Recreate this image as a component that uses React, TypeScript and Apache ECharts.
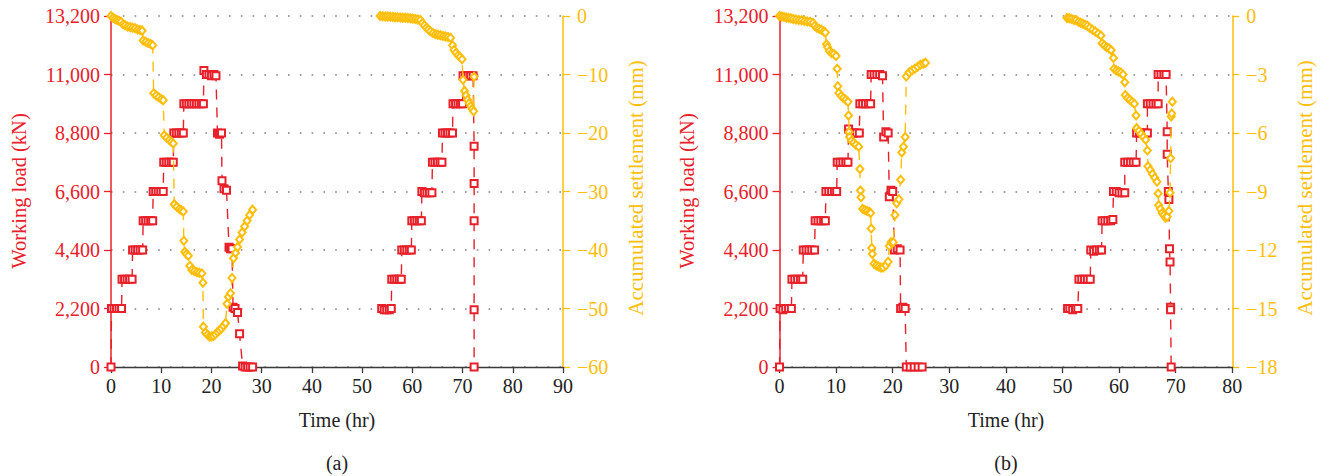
import React, { useEffect, useRef } from "react";
import * as echarts from "echarts";

// ---------- data ----------
// (a) working load [time hr, load kN]
const loadA1: number[][] = [
  [0, 0],
  [0.1, 2200], [0.6, 2200], [1.1, 2200], [1.6, 2200], [2.1, 2200],
  [2.2, 3300], [2.7, 3300], [3.2, 3300], [3.7, 3300], [4.2, 3300],
  [4.3, 4400], [4.8, 4400], [5.3, 4400], [5.8, 4400], [6.3, 4400],
  [6.4, 5500], [6.9, 5500], [7.4, 5500], [7.9, 5500], [8.3, 5500],
  [8.4, 6600], [8.9, 6600], [9.4, 6600], [9.9, 6600], [10.4, 6600],
  [10.5, 7700], [11.0, 7700], [11.5, 7700], [12.0, 7700], [12.4, 7700],
  [12.5, 8800], [13.0, 8800], [13.5, 8800], [14.0, 8800], [14.4, 8800],
  [14.5, 9900], [15.0, 9900], [15.5, 9900], [16.0, 9900], [16.5, 9900], [17.0, 9900], [17.5, 9900], [18.0, 9900], [18.4, 9900],
  [18.5, 11150], [19.0, 11000], [19.5, 11000], [20.0, 10950], [20.5, 11000], [20.9, 10950],
  [21.2, 8800], [21.6, 8750], [22.0, 8800],
  [22.1, 7000], [22.5, 6700], [23.0, 6650],
  [23.5, 4500], [23.8, 4450], [24.1, 4450],
  [24.3, 2250], [24.7, 2200], [25.2, 2050],
  [25.6, 1250],
  [26.2, 40], [26.7, 0], [27.2, 0], [27.7, 0], [28.2, 0],
];
const loadA2: number[][] = [
  [53.9, 2200], [54.4, 2150], [54.9, 2150], [55.4, 2150], [55.8, 2200],
  [55.9, 3300], [56.4, 3300], [56.9, 3300], [57.4, 3300], [57.8, 3300],
  [57.9, 4400], [58.4, 4400], [58.9, 4400], [59.4, 4400], [59.8, 4400],
  [59.9, 5500], [60.4, 5500], [60.9, 5500], [61.4, 5500], [61.8, 5500],
  [61.9, 6600], [62.4, 6550], [62.9, 6550], [63.4, 6550], [63.9, 6550],
  [64.0, 7700], [64.5, 7700], [65.0, 7700], [65.5, 7700], [65.9, 7700],
  [66.0, 8800], [66.5, 8800], [67.0, 8800], [67.5, 8800], [68.0, 8800],
  [68.1, 9900], [68.6, 9900], [69.1, 9900], [69.6, 9900], [70.0, 9900],
  [70.1, 10950], [70.6, 10950], [71.1, 10950], [71.6, 10950], [72.1, 10950],
  [72.3, 8300], [72.3, 6900], [72.3, 5500], [72.3, 2150], [72.3, 0],
];
// (a) accumulated settlement [time hr, mm]
const settleA1: number[][] = [
  [0, 0], [0.4, -0.3], [0.8, -0.5], [1.2, -0.7], [1.6, -0.8], [2.0, -1.0],
  [2.4, -1.4], [2.8, -1.6], [3.3, -1.8], [3.8, -1.9], [4.3, -2.0], [4.8, -2.1], [5.3, -2.3], [5.8, -2.4], [6.2, -2.5],
  [6.4, -4.2], [6.9, -4.4], [7.4, -4.6], [7.9, -4.8], [8.3, -5.0],
  [8.5, -13.2], [9.0, -13.6], [9.5, -13.9], [10.0, -14.2], [10.4, -14.4],
  [10.6, -20.4], [11.1, -20.8], [11.6, -21.2], [12.0, -21.5], [12.4, -21.8],
  [12.6, -32.2], [13.1, -32.6], [13.6, -33.0], [14.0, -33.2], [14.4, -33.4],
  [14.5, -38.4], [14.7, -40.3], [15.0, -40.7], [15.4, -41.0], [15.7, -42.7], [16.1, -43.4], [16.6, -43.6], [17.1, -43.8], [17.6, -43.9], [18.1, -44.0], [18.3, -45.6],
  [18.4, -53.1], [18.8, -54.1], [19.2, -54.5], [19.6, -54.8], [20.0, -54.8], [20.4, -54.7], [20.8, -54.4],
  [21.2, -54.0], [21.6, -53.7], [22.0, -53.4], [22.4, -53.0], [22.8, -52.5],
  [23.1, -49.2], [23.4, -48.0], [23.8, -47.4],
  [24.1, -44.8], [24.4, -41.4], [24.8, -40.5], [25.2, -39.5],
  [25.6, -38.2], [26.1, -37.0], [26.6, -36.0], [27.1, -35.0], [27.6, -34.0], [28.2, -33.1],
];
const settleA2: number[][] = [
  [53.6, 0], [54.1, -0.05], [54.6, -0.1], [55.1, -0.1], [55.6, -0.12], [56.1, -0.15], [56.6, -0.2], [57.1, -0.2], [57.6, -0.25],
  [58.1, -0.3], [58.6, -0.3], [59.1, -0.35], [59.6, -0.4], [60.1, -0.45], [60.6, -0.5], [61.1, -0.6], [61.6, -0.7],
  [62.0, -1.2], [62.4, -1.6], [62.8, -2.0], [63.2, -2.3], [63.6, -2.6],
  [64.1, -2.9], [64.6, -3.1], [65.1, -3.2], [65.6, -3.3], [66.1, -3.4], [66.6, -3.5], [67.1, -3.6], [67.6, -3.7],
  [68.0, -5.0], [68.3, -5.8], [68.7, -6.3], [69.1, -6.7], [69.5, -7.0], [69.9, -7.4],
  [70.1, -10.9], [70.4, -12.8], [70.7, -13.6], [71.0, -14.3], [71.3, -14.9], [71.6, -15.4], [71.9, -15.9], [72.2, -16.3], [72.3, -10.4],
];

// (b) working load [time hr, load kN]
const loadB1: number[][] = [
  [0, 0],
  [0.1, 2200], [0.6, 2150], [1.1, 2200], [1.6, 2200], [2.1, 2200],
  [2.2, 3300], [2.7, 3300], [3.2, 3300], [3.7, 3300], [4.1, 3300],
  [4.2, 4400], [4.7, 4400], [5.2, 4400], [5.7, 4400], [6.2, 4400],
  [6.3, 5500], [6.8, 5500], [7.3, 5500], [7.8, 5500], [8.1, 5500],
  [8.2, 6600], [8.7, 6600], [9.2, 6600], [9.7, 6600], [10.1, 6600],
  [10.2, 7700], [10.7, 7700], [11.2, 7700], [11.7, 7700], [12.1, 7700],
  [12.2, 8950], [12.6, 8800], [13.1, 8800], [13.6, 8800], [14.1, 8800],
  [14.2, 9900], [14.7, 9900], [15.2, 9900], [15.7, 9900], [16.1, 9900],
  [16.2, 11000], [16.7, 11000], [17.2, 11000], [17.7, 11000], [18.2, 10950],
  [18.4, 8650], [18.8, 8850], [19.2, 8800],
  [19.4, 6400], [19.7, 6650], [20.0, 6600],
  [20.3, 4400], [20.8, 4450], [21.3, 4400],
  [21.4, 2200], [21.8, 2250], [22.2, 2200],
  [22.4, 0], [23.1, 0], [23.8, 0], [24.5, 0], [25.2, 0],
];
const loadB2: number[][] = [
  [50.9, 2200], [51.3, 2200], [51.8, 2150], [52.3, 2200], [52.7, 2200],
  [52.9, 3300], [53.4, 3300], [53.9, 3300], [54.4, 3300], [54.9, 3300],
  [55.0, 4400], [55.5, 4350], [56.0, 4400], [56.5, 4400], [56.9, 4400],
  [57.0, 5500], [57.5, 5500], [58.0, 5500], [58.5, 5500], [58.9, 5550],
  [59.0, 6600], [59.5, 6600], [60.0, 6550], [60.5, 6550], [61.0, 6550],
  [61.0, 7700], [61.5, 7700], [62.0, 7700], [62.5, 7700], [63.0, 7700],
  [63.1, 8800], [63.6, 8800], [64.1, 8800], [64.6, 8800], [65.0, 8800],
  [65.0, 9900], [65.5, 9900], [66.0, 9900], [66.5, 9900], [66.9, 9900],
  [66.9, 11000], [67.4, 11000], [67.9, 11000], [68.3, 11000],
  [68.5, 8850], [68.5, 8000], [68.7, 6600], [68.8, 6300], [68.9, 4450], [69.0, 3950], [69.1, 2250], [69.1, 2150], [69.2, 0],
];
// (b) accumulated settlement [time hr, mm]
const settleB1: number[][] = [
  [0, 0], [0.4, -0.03], [0.8, -0.05], [1.2, -0.08], [1.6, -0.1], [2.0, -0.12],
  [2.4, -0.15], [2.9, -0.18], [3.4, -0.2], [3.9, -0.22], [4.4, -0.25], [4.9, -0.28], [5.4, -0.3], [5.9, -0.35],
  [6.2, -0.5], [6.6, -0.6], [7.0, -0.65], [7.4, -0.7], [7.8, -0.78], [8.1, -0.85],
  [8.3, -1.45], [8.5, -1.6], [8.8, -1.8], [9.2, -1.9], [9.6, -1.95], [10.0, -2.05],
  [10.2, -2.7],
  [10.3, -3.6], [10.5, -3.95], [10.9, -4.1], [11.3, -4.2], [11.7, -4.3], [12.1, -4.4],
  [12.2, -5.1],
  [12.3, -5.95], [12.4, -6.2], [12.7, -6.4], [13.1, -6.5], [13.5, -6.6], [14.0, -6.7],
  [14.2, -7.85],
  [14.3, -8.95], [14.4, -9.3], [14.7, -9.9], [15.1, -9.95], [15.5, -10.0], [15.9, -10.05], [16.1, -10.1],
  [16.2, -10.9],
  [16.3, -11.9], [16.4, -12.2], [16.7, -12.7], [17.1, -12.8], [17.5, -12.85], [17.9, -12.9], [18.3, -12.9],
  [18.8, -12.8], [19.2, -12.6], [19.4, -11.8], [19.7, -11.6], [20.1, -11.6],
  [20.4, -10.2], [20.7, -9.6], [21.1, -9.4], [21.4, -8.4], [21.6, -7.0], [21.9, -6.7], [22.2, -6.2],
  [22.4, -3.1], [22.9, -2.9], [23.4, -2.8], [23.9, -2.7], [24.4, -2.6], [24.9, -2.5], [25.4, -2.45], [25.8, -2.4],
];
const settleB2: number[][] = [
  [50.8, -0.1], [51.2, -0.12], [51.6, -0.15], [52.0, -0.2], [52.4, -0.2], [52.8, -0.3], [53.2, -0.35], [53.6, -0.4], [54.0, -0.45], [54.4, -0.5],
  [54.8, -0.6], [55.3, -0.7], [55.8, -0.8], [56.3, -0.9], [56.8, -1.0],
  [57.0, -1.4], [57.4, -1.5], [57.8, -1.6], [58.2, -1.65], [58.6, -1.75],
  [59.0, -2.15],
  [59.1, -2.7], [59.5, -2.8], [59.9, -2.85], [60.3, -2.9], [60.7, -3.0],
  [61.0, -3.4],
  [61.1, -4.05], [61.5, -4.2], [61.9, -4.3], [62.3, -4.4], [62.7, -4.5],
  [63.0, -5.1],
  [63.1, -5.75], [63.5, -5.9], [63.9, -6.05], [64.3, -6.2], [64.7, -6.35],
  [65.0, -6.9],
  [65.1, -7.7], [65.5, -7.9], [65.9, -8.1], [66.3, -8.3], [66.7, -8.5],
  [66.9, -9.1],
  [67.0, -9.7], [67.3, -9.9], [67.6, -10.1], [67.9, -10.2], [68.2, -10.35], [68.5, -10.3],
  [68.8, -10.0], [69.0, -9.06], [69.1, -7.3], [69.2, -5.15], [69.3, -5.0], [69.4, -4.4],
];

// axis settings
const timeMaxA = 90;
const timeMaxB = 80;
const loadMax = 13200;
const loadStep = 2200;
const settleMinA = -60;
const settleStepA = 10;
const settleMinB = -18;
const settleStepB = 3;

const TITLE_LOAD = "Working load (kN)";
const TITLE_SETTLE = "Accumulated settlement (mm)";
const TITLE_TIME = "Time (hr)";
const PANEL_A = "(a)";
const PANEL_B = "(b)";

const RED = "#e8202a";
const YELLOW = "#ffbe0a";
const FONT = "Liberation Serif";

export default function App() {
  const ref = useRef<HTMLDivElement>(null);

  useEffect(() => {
    if (!ref.current) return;
    const chart = echarts.init(ref.current, undefined, { renderer: "svg" });

    const fmtLoad = (v: number) => v.toLocaleString("en-US");
    const fmtSettle = (v: number) => (v < 0 ? "\u2212" + Math.abs(v) : String(v));

    const xAxis = (gridIndex: number, max: number) => ({
      type: "value",
      gridIndex,
      min: 0,
      max,
      interval: 10,
      axisLine: { show: true, lineStyle: { color: "#3a3a3a", width: 1.3 } },
      axisTick: { show: true, length: 6, lineStyle: { color: "#3a3a3a", width: 1.3 } },
      axisLabel: { color: "#222", fontSize: 20, fontFamily: FONT, margin: 9 },
      splitLine: { show: false },
    });
    const yLeft = (gridIndex: number) => ({
      type: "value",
      gridIndex,
      position: "left",
      min: 0,
      max: loadMax,
      interval: loadStep,
      axisLine: { show: true, onZero: false, lineStyle: { color: RED, width: 1.5 } },
      axisTick: { show: true, length: 7, lineStyle: { color: RED, width: 1.3 } },
      axisLabel: { color: RED, fontSize: 20, fontFamily: FONT, margin: 11, formatter: fmtLoad },
      splitLine: { show: true, lineStyle: { color: "#808080", width: 1.6, type: [1.6, 10.2] } },
    });
    const yRight = (gridIndex: number, min: number, interval: number) => ({
      type: "value",
      gridIndex,
      position: "right",
      min,
      max: 0,
      interval,
      axisLine: { show: true, onZero: false, lineStyle: { color: YELLOW, width: 1.5 } },
      axisTick: { show: true, length: 7, lineStyle: { color: YELLOW, width: 1.3 } },
      axisLabel: { color: YELLOW, fontSize: 20, fontFamily: FONT, margin: 14, formatter: fmtSettle },
      splitLine: { show: false },
    });

    const loadSeries = (data: number[][], xi: number, yi: number) => ({
      type: "line",
      xAxisIndex: xi,
      yAxisIndex: yi,
      data,
      symbol: "emptyRect",
      symbolSize: 7,
      showAllSymbol: true,
      clip: false,
      silent: true,
      lineStyle: { color: RED, width: 1.4, type: [10, 8] },
      itemStyle: { color: RED, borderWidth: 1.3 },
      z: 2,
    });
    const settleSeries = (data: number[][], xi: number, yi: number) => ({
      type: "line",
      xAxisIndex: xi,
      yAxisIndex: yi,
      data,
      symbol: "emptyDiamond",
      symbolSize: [7, 8],
      showAllSymbol: true,
      clip: false,
      silent: true,
      lineStyle: { color: YELLOW, width: 1.4, type: [10, 8] },
      itemStyle: { color: YELLOW, borderWidth: 1.3 },
      z: 3,
    });

    const vText = (x: number, y: number, text: string, color: string, size: number) => ({
      type: "text",
      x,
      y,
      rotation: Math.PI / 2,
      style: { text, fill: color, font: `${size}px "${FONT}"`, align: "center", verticalAlign: "middle" },
    });
    const hText = (x: number, y: number, text: string) => ({
      type: "text",
      x,
      y,
      style: { text, fill: "#222", font: `20px "${FONT}"`, align: "center", verticalAlign: "middle" },
    });

    chart.setOption({
      animation: false,
      backgroundColor: "#ffffff",
      grid: [
        { left: 111, top: 16, width: 452, height: 351 },
        { left: 779.5, top: 16, width: 452.8, height: 351 },
      ],
      xAxis: [xAxis(0, timeMaxA), xAxis(1, timeMaxB)],
      yAxis: [
        yLeft(0),
        yRight(0, settleMinA, settleStepA),
        yLeft(1),
        yRight(1, settleMinB, settleStepB),
      ],
      series: [
        loadSeries(loadA1, 0, 0),
        loadSeries(loadA2, 0, 0),
        settleSeries(settleA1, 0, 1),
        settleSeries(settleA2, 0, 1),
        loadSeries(loadB1, 1, 2),
        loadSeries(loadB2, 1, 2),
        settleSeries(settleB1, 1, 3),
        settleSeries(settleB2, 1, 3),
      ],
      graphic: [
        vText(19, 191, TITLE_LOAD, RED, 20.5),
        vText(636, 188, TITLE_SETTLE, YELLOW, 21),
        hText(337, 420, TITLE_TIME),
        hText(337, 463, PANEL_A),
        vText(687, 191, TITLE_LOAD, RED, 20.5),
        vText(1305, 188, TITLE_SETTLE, YELLOW, 21),
        hText(1006, 420, TITLE_TIME),
        hText(1006, 463, PANEL_B),
      ],
    });

    return () => chart.dispose();
  }, []);

  return (
    <div
      ref={ref}
      style={{ position: "absolute", left: 0, top: 0, width: 1323, height: 476, background: "#fff" }}
    />
  );
}
